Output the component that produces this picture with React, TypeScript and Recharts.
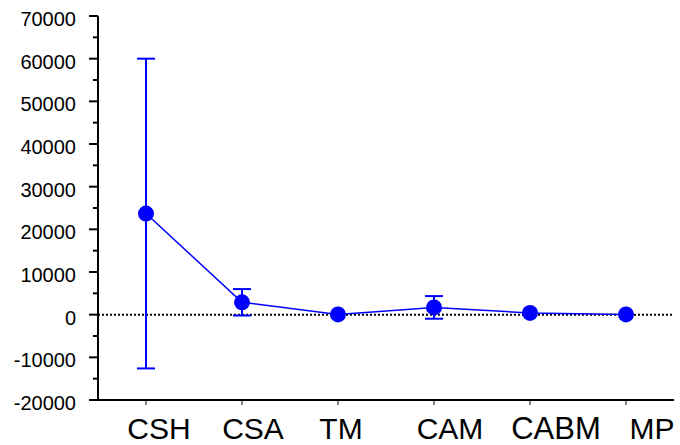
import React from "react";
import {
  LineChart,
  Line,
  XAxis,
  YAxis,
  ErrorBar,
  ReferenceLine,
} from "recharts";

// values
const categories = ["CSH", "CSA", "TM", "CAM", "CABM", "MP"];
const means = [23700, 2900, 50, 1700, 400, 50];
const errors = [36300, 3100, 0, 2650, 0, 0];
const yTicks = [
  -20000, -15000, -10000, -5000, 0, 5000, 10000, 15000, 20000, 25000, 30000,
  35000, 40000, 45000, 50000, 55000, 60000, 65000, 70000,
];

// label nudges, the source labels sit a bit off their ticks
const labelDx = [13, 11, 3, 16, 26, 26];
const labelDy = [0, 0, 0, 0, 0.5, 0];
const labelSize = [30, 30, 30, 30, 31, 30];

const data = categories.map((name, i) => ({
  name,
  value: means[i],
  err: errors[i],
}));

const FONT = "'Liberation Sans', Arial, sans-serif";
const BLUE = "#0000ff";

const YTick = (props: any) => {
  const { x, y, payload } = props;
  const major = payload.value % 10000 === 0;
  return (
    <g>
      <line
        x1={x - (major ? 9 : 5)}
        x2={x}
        y1={y}
        y2={y}
        stroke="#000"
        strokeWidth={2}
      />
      {major && (
        <text
          x={x - 22}
          y={y + 10}
          textAnchor="end"
          fontSize={20}
          fontFamily={FONT}
          fill="#000"
        >
          {payload.value}
        </text>
      )}
    </g>
  );
};

const XTick = (props: any) => {
  const { x, y, payload, index } = props;
  return (
    <text
      x={x + labelDx[index]}
      y={y + 31.5 + labelDy[index]}
      textAnchor="middle"
      fontSize={labelSize[index]}
      fontFamily={FONT}
      fill="#000"
    >
      {payload.value}
    </text>
  );
};

const App = () => {
  return (
    <div style={{ position: "absolute", left: 0, top: 0, background: "#fff" }}>
      <LineChart
        width={680}
        height={445}
        data={data}
        margin={{ top: 16, right: 6, bottom: 0, left: 0 }}
      >
        <XAxis
          dataKey="name"
          height={45}
          padding={{ left: 48, right: 48 }}
          axisLine={{ stroke: "#000", strokeWidth: 2 }}
          tickLine={{ stroke: "#000", strokeWidth: 1 }}
          tickSize={5}
          tickMargin={2}
          interval={0}
          tick={<XTick />}
        />
        <YAxis
          width={98}
          domain={[-20000, 70000]}
          ticks={yTicks}
          interval={0}
          axisLine={{ stroke: "#000", strokeWidth: 2 }}
          tickLine={false}
          tickSize={0}
          tickMargin={0}
          tick={<YTick />}
        />
        <ReferenceLine
          y={0}
          stroke="#000"
          strokeWidth={2}
          strokeDasharray="2 2"
        />
        <Line
          dataKey="value"
          stroke={BLUE}
          strokeWidth={1.5}
          dot={{ r: 8, fill: BLUE, stroke: "none" }}
          isAnimationActive={false}
        >
          <ErrorBar
            dataKey="err"
            width={9}
            stroke={BLUE}
            strokeWidth={2}
            isAnimationActive={false}
          />
        </Line>
      </LineChart>
    </div>
  );
};

export default App;
